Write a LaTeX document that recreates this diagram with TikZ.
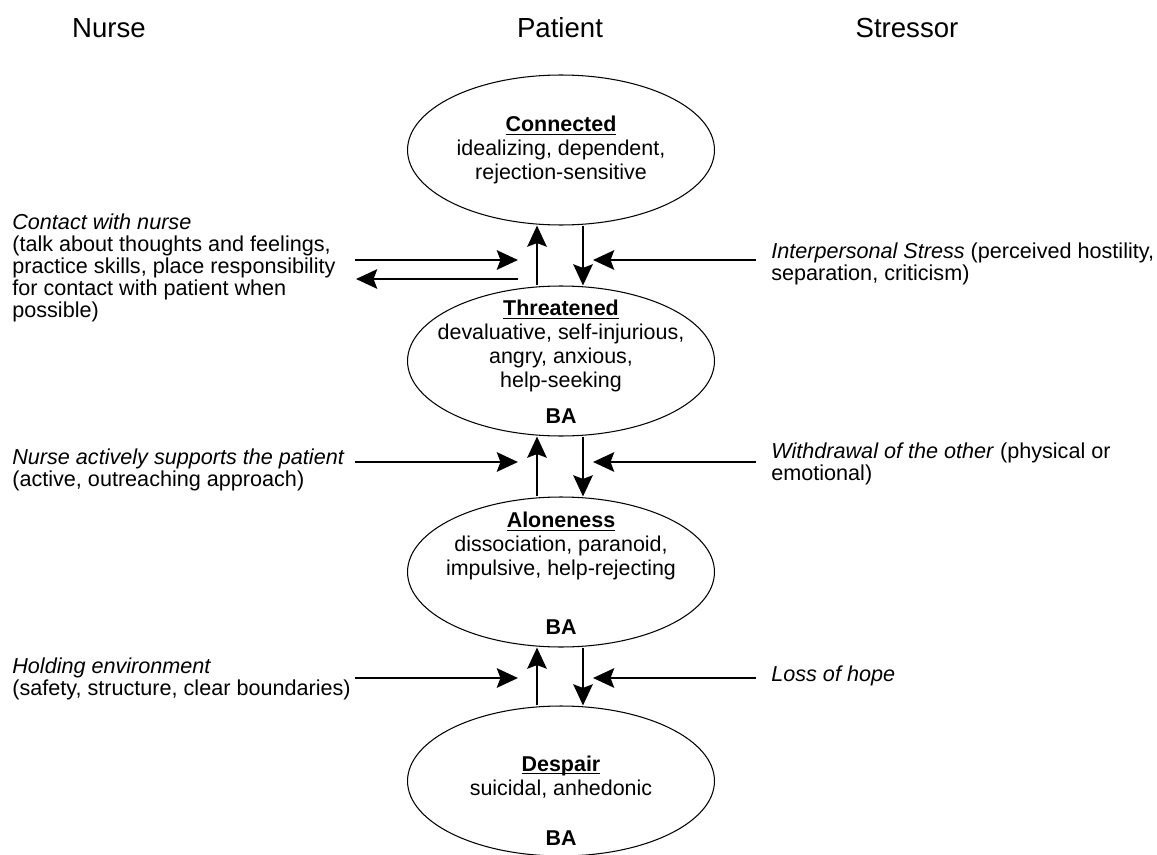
\documentclass[tikz,border=0pt]{standalone}
\usepackage{fontspec}
\setmainfont{Liberation Sans}
\usetikzlibrary{arrows.meta,shapes.geometric}

\newcommand\statetitle[1]{\underline{\smash{\textbf{#1}}}\vphantom{\textbf{#1}}}

\tikzset{
    state/.style={draw, ellipse, line width=0.6pt, minimum width=6.14cm, minimum height=3cm, inner sep=0pt},
    statetext/.style={align=center, inner sep=0pt, font=\fontsize{12.2}{13.7}\selectfont},
    ba/.style={inner sep=0pt, font=\fontsize{12.2}{14}\selectfont\bfseries},
    side/.style={align=left, anchor=north west, inner sep=0pt, font=\fontsize{12.3}{12.6}\selectfont},
    header/.style={inner sep=0pt, font=\fontsize{15.7}{18}\selectfont},
    arr/.style={-{Stealth[length=12pt, width=11pt, inset=2pt]}, line width=1.6pt},
}

\begin{document}
\begin{tikzpicture}[x=0.02cm, y=-0.02cm]
    \useasboundingbox (0,0) rectangle (1157,855);
    % column heads
    \node[header] (nurse) at (109,28) {Nurse};
    \node[header] (patient) at (560,28) {Patient};
    \node[header] (stressor) at (907,28) {Stressor};
    % patient states
    \foreach \n/\y in {conn/150, threat/361, alone/572, desp/781} {
        \node[state] (\n) at (561,\y) {};
    }
    \node[statetext] (conntext) at (561,150) {\statetitle{Connected}\\idealizing, dependent,\\rejection-sensitive};
    \node[statetext] (threattext) at (561,346) {\statetitle{Threatened}\\devaluative, self-injurious,\\angry, anxious,\\help-seeking};
    \node[statetext] (alonetext) at (561,546) {\statetitle{Aloneness}\\dissociation, paranoid,\\impulsive, help-rejecting};
    \node[statetext] (desptext) at (561,777) {\statetitle{Despair}\\suicidal, anhedonic};
    \node[ba] (threatba) at (561,416) {BA};
    \node[ba] (aloneba) at (561,627) {BA};
    \node[ba] (despba) at (561,838) {BA};
    % what the nurse does
    \node[side] (contact) at (12,213) {\textit{Contact with nurse}\\(talk about thoughts and feelings,\\practice skills, place responsibility\\for contact with patient when\\possible)};
    \node[side] (support) at (12,448) {\textit{Nurse actively supports the patient}\\(active, outreaching approach)};
    \node[side] (holding) at (12,657) {\textit{Holding environment}\\(safety, structure, clear boundaries)};
    % what pushes the patient down
    \node[side] (interstress) at (771,242) {\textit{Interpersonal Stress} (perceived hostility,\\separation, criticism)};
    \node[side] (withdrawal) at (771,442) {\textit{Withdrawal of the other} (physical or\\emotional)};
    \node[side] (hope) at (771,665) {\textit{Loss of hope}};
    % moving between states
    \coordinate (up) at (537,0);
    \coordinate (down) at (583,0);
    \foreach \a/\b in {threat/conn, alone/threat, desp/alone} {
        \draw[arr] (\a.north -| up) -- (\b.south -| up);
        \draw[arr] (\b.south -| down) -- (\a.north -| down);
    }
    \foreach \i/\y in {1/260, 2/462, 3/678} {
        \coordinate (nursefrom\i) at (355,\y);
        \coordinate (nurseto\i) at (518,\y);
        \coordinate (stressfrom\i) at (756,\y);
        \coordinate (stressto\i) at (593,\y);
        \draw[arr] (nursefrom\i) -- (nurseto\i);
        \draw[arr] (stressfrom\i) -- (stressto\i);
    }
    \coordinate (backfrom) at (518,279);
    \coordinate (backto) at (356,279);
    \draw[arr] (backfrom) -- (backto);
\end{tikzpicture}
\end{document}
